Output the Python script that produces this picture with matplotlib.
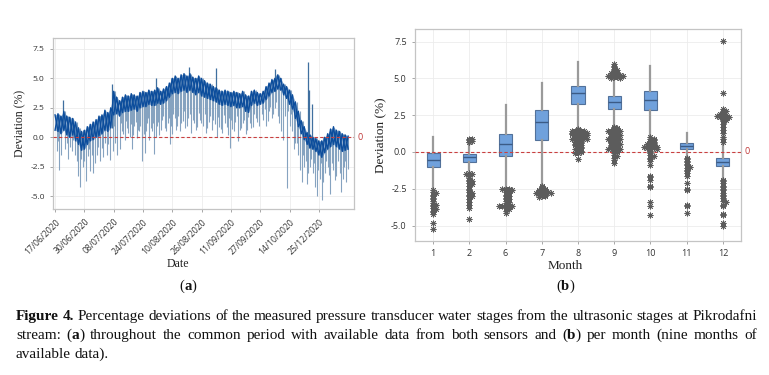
import numpy as np
import matplotlib
matplotlib.use("Agg")
import matplotlib.pyplot as plt

# ---------------- data: panel (a) time series ----------------
date_labels = ['17/06/2020', '30/06/2020', '08/07/2020', '24/07/2020', '10/08/2020',
               '26/08/2020', '11/09/2020', '27/09/2020', '14/10/2020', '25/12/2020']
t_step = 0.1  # samples every 0.1 tick interval
band_top = [1.9, 2.0, 1.8, 2.2, 1.8, 1.7, 1.6, 1.3, 0.8, 0.5,
            0.6, 0.9, 1.1, 1.3, 1.5, 1.8, 1.9, 2.3, 2.1, 2.5,
            3.9, 3.4, 3.1, 3.4, 3.6, 3.5, 3.7, 3.6, 3.5, 3.8,
            3.9, 3.8, 4.0, 3.9, 4.0, 4.2, 3.9, 4.1, 4.3, 4.6,
            5.0, 5.2, 5.0, 5.3, 5.4, 5.2, 5.4, 5.1, 5.0, 5.2,
            5.0, 4.8, 4.6, 4.5, 4.3, 4.2, 4.0, 3.9, 4.0, 3.9,
            3.8, 3.9, 3.8, 3.7, 3.9, 3.6, 3.5, 3.9, 4.0, 3.8,
            3.7, 3.9, 4.3, 4.6, 4.9, 5.0, 5.3, 5.0, 4.5, 4.3,
            4.0, 3.6, 3.0, 2.2, 1.4, 0.9, 0.4, 0.2, 0.0, -0.1,
            -0.3, -0.3, 0.0, 0.3, 0.7, 0.9, 0.6, 0.5, 0.3, 0.2,
            0.1]
band_bottom = [0.6, 0.5, 0.3, 0.6, 0.2, 0.0, 0.2, -0.3, -0.6, -1.1,
               -1.0, -0.6, -0.3, -0.2, 0.0, 0.1, 0.3, 0.6, 0.5, 0.8,
               1.9, 2.0, 1.8, 2.1, 2.2, 2.2, 2.3, 2.4, 2.2, 2.5,
               2.6, 2.6, 2.8, 2.7, 2.7, 2.9, 2.8, 2.9, 3.1, 3.4,
               3.7, 3.8, 3.7, 3.9, 4.0, 3.8, 4.0, 3.8, 3.6, 3.8,
               3.5, 3.4, 3.3, 3.2, 3.1, 3.0, 2.8, 2.7, 2.8, 2.7,
               2.6, 2.7, 2.5, 2.5, 2.6, 2.2, 2.1, 2.7, 2.9, 2.7,
               2.8, 2.9, 3.2, 3.5, 3.8, 3.9, 4.1, 4.0, 3.6, 3.3,
               2.8, 2.4, 1.6, 0.9, 0.3, -0.2, -0.6, -0.9, -1.0, -1.2,
               -1.5, -1.7, -1.3, -1.0, -0.8, -0.6, -0.8, -1.0, -1.2, -1.1,
               -1.0]
# large excursions (light spikes)
spike_t = [0.06, 0.15, 0.28, 0.34, 0.51, 0.68, 0.80, 0.85, 0.97, 1.05, 1.12, 1.19, 1.29,
           1.42, 1.54, 1.65, 1.76, 1.88, 1.94, 2.05, 2.10, 2.20, 2.28, 2.39,
           2.45, 2.55, 2.62, 2.70, 2.80, 2.87, 2.95, 3.02, 3.07, 3.15, 3.22, 3.30, 3.39,
           3.45, 3.47, 3.55, 3.65, 3.75, 3.85, 3.92, 4.00, 4.08, 4.15, 4.25, 4.35, 4.45,
           4.55, 4.56, 4.65, 4.75, 4.85, 4.95,
           5.05, 5.15, 5.25, 5.35, 5.45, 5.50, 5.52, 5.60, 5.70, 5.80, 5.90, 5.97, 6.05,
           6.15, 6.25, 6.35, 6.45, 6.55, 6.65, 6.75, 6.85, 6.95, 7.05, 7.20, 7.30, 7.40,
           7.50, 7.51, 7.60, 7.70,
           7.78, 7.90, 8.00, 8.10, 8.20, 8.30, 8.41, 8.50, 8.58, 8.64, 8.67, 8.70, 8.76,
           8.80, 8.88, 8.93, 9.03, 9.10, 9.20, 9.30, 9.38, 9.50, 9.60, 9.77, 9.85, 9.94]
spike_v = [-1.2, -2.8, 3.2, -1.0, -0.8, -1.5, -3.3, -4.2, -2.5, -3.7, -1.6, -2.9, -3.0,
           -1.5, -2.0, -1.7, -1.5, -1.9, 4.5, -0.5, -1.5, -1.0, 0.5, -0.2,
           0.8, 0.0, -1.0, 1.0, -0.1, 0.5, -2.0, 0.3, -1.3, 1.2, -0.2, 0.5, -1.4,
           5.0, 1.0, 0.2, 1.5, 0.8, 1.2, -0.6, 0.3, 1.6, 1.0, 0.5, 1.4, 0.8,
           1.6, 6.0, 0.4, 1.2, 0.9, 1.5,
           1.0, 0.4, 1.3, 0.6, 1.1, 5.9, 0.0, 0.9, 0.4, 1.2, 0.2, -0.9, 0.7,
           1.3, -0.3, 0.8, 1.5, 0.6, 1.2, 0.9, 1.6, 1.0, 2.0, 1.0, 2.2, 1.6,
           2.5, 5.8, 1.8, 2.3,
           -0.2, -4.3, 1.0, 0.5, -0.5, -1.5, -3.8, -2.5, -4.0, 6.35, 4.0, -2.5, 2.8,
           -3.0, -4.2, -5.0, -3.5, -5.3, -3.0, -2.5, -4.8, -2.8, -3.3, -4.6, -2.5, -3.8]
# smaller excursions (light lines filling the area under the band)
minor_t = [0.10, 0.20, 0.40, 0.45, 0.58, 0.62, 0.74, 0.90, 1.00, 1.15, 1.25, 1.35, 1.48,
           1.60, 1.70, 1.82, 1.98,
           2.02, 2.13, 2.25, 2.33, 2.42, 2.50, 2.58, 2.66, 2.75, 2.83, 2.91, 2.98,
           3.05, 3.12, 3.18, 3.26, 3.34, 3.43, 3.52, 3.60, 3.70, 3.80, 3.88, 3.96,
           4.04, 4.12, 4.20, 4.30, 4.40, 4.50, 4.60, 4.70, 4.80, 4.90, 4.98,
           5.10, 5.20, 5.30, 5.40, 5.57, 5.65, 5.75, 5.85, 5.93,
           6.00, 6.10, 6.20, 6.30, 6.40, 6.50, 6.60, 6.70, 6.80, 6.90,
           7.10, 7.15, 7.25, 7.35, 7.45, 7.55, 7.65, 7.72, 7.85, 7.95,
           8.05, 8.15, 8.25, 8.35, 8.45, 8.55, 8.62, 8.73, 8.83, 8.98, 9.07, 9.15,
           9.25, 9.35, 9.45, 9.55, 9.65, 9.72, 9.82, 9.90, 9.98]
minor_v = [-0.3, -1.5, -0.5, -1.8, -1.2, -0.2, -2.0, -1.8, -2.0, -1.0, -1.5, -2.2, -0.8,
           -0.9, -0.5, -0.6, -1.2,
           1.0, 0.6, 1.2, 0.3, 1.4, 0.4, 1.1, 0.2, 1.3, 0.6, 1.0, 0.0,
           1.4, 0.5, 1.6, 0.8, 1.2, 0.0, 1.3, 0.6, 1.8, 0.5, 1.6, 1.0,
           2.0, 0.6, 1.8, 1.2, 2.2, 1.0, 2.0, 1.5, 0.6, 2.1, 1.2,
           2.0, 0.8, 1.8, 1.5, 1.7, 0.7, 1.9, 0.9, 1.6,
           1.5, 0.5, 1.8, 0.6, 1.2, 0.3, 1.7, 0.8, 2.0, 1.3,
           1.5, 2.4, 1.4, 2.6, 2.0, 3.0, 1.2, 0.5, 1.8, 2.2,
           2.0, -1.0, -0.5, -2.8, -1.5, -2.0, -3.0, -1.8, -2.2, -2.8, -2.2, -3.8,
           -2.0, -3.2, -2.2, -3.6, -2.0, -3.0, -3.5, -2.0, -2.7]

# ---------------- data: panel (b) monthly box plots ----------------
months = ['1', '2', '6', '7', '8', '9', '10', '11', '12']
q1 = [-1.05, -0.69, -0.25, 0.80, 3.24, 2.91, 2.83, 0.20, -0.97]
med = [-0.55, -0.35, 0.52, 2.01, 3.98, 3.40, 3.53, 0.43, -0.65]
q3 = [-0.08, -0.16, 1.22, 2.83, 4.47, 3.79, 4.12, 0.59, -0.39]
whislo = [-2.55, -1.25, -2.40, -2.25, 1.62, 1.75, 1.10, -0.30, -1.75]
whishi = [1.00, 0.60, 3.17, 4.68, 6.14, 4.95, 5.82, 1.27, 0.45]
out_m1 = [-2.6, -2.7, -2.8, -2.9, -3.0, -3.1, -3.2, -3.3, -3.5, -3.6, -3.6, -3.7,
          -3.8, -3.9, -4.0, -4.1, -4.2, -4.8, -5.25]
out_m2 = [0.65, 0.7, 0.75, 0.8, 0.85, 0.9, -1.4, -1.5, -1.5, -1.6, -1.8, -1.9, -2.0,
          -2.0, -2.1, -2.2, -2.3, -2.5, -2.6, -2.7, -2.8, -2.9, -3.0, -3.0, -3.2,
          -3.4, -3.6, -3.8, -4.55]
out_m6 = [-2.5, -2.5, -2.5, -2.55, -2.6, -2.6, -2.7, -2.8, -2.9, -3.0, -3.0, -3.1,
          -3.2, -3.2, -3.3, -3.4, -3.5, -3.6, -3.7, -3.7, -3.7, -3.7, -3.7, -3.8,
          -3.9, -4.0, -4.15]
out_m7 = [-2.3, -2.4, -2.5, -2.5, -2.55, -2.6, -2.6, -2.65, -2.7, -2.7, -2.7, -2.75,
          -2.8, -2.8, -2.85, -2.9, -2.9, -3.0, -3.0, -3.05]
out_m8 = [1.55, 1.5, 1.45, 1.4, 1.4, 1.4, 1.35, 1.35, 1.3, 1.3, 1.3, 1.3, 1.25, 1.25,
          1.2, 1.2, 1.2, 1.15, 1.1, 1.1, 1.1, 1.05, 1.0, 1.0, 1.0, 0.95, 0.9, 0.9,
          0.85, 0.8, 0.8, 0.75, 0.7, 0.7, 0.65, 0.6, 0.55, 0.5, 0.5, 0.45, 0.4, 0.35,
          0.3, 0.25, 0.2, 0.15, 0.1, 0.05, 0.0, -0.05, -0.1, -0.5]
out_m9 = [5.95, 5.85, 5.75, 5.65, 5.6, 5.5, 5.45, 5.4, 5.35, 5.3, 5.25, 5.25, 5.2,
          5.2, 5.2, 5.2, 5.15, 5.15, 5.1, 5.1, 5.05, 5.0,
          1.7, 1.65, 1.6, 1.55, 1.5, 1.5, 1.45, 1.4, 1.4, 1.35, 1.3, 1.3, 1.25, 1.2,
          1.2, 1.15, 1.1, 1.1, 1.05, 1.0, 1.0, 0.95, 0.9, 0.9, 0.85, 0.8, 0.8, 0.75,
          0.7, 0.7, 0.65, 0.6, 0.6, 0.55, 0.5, 0.5, 0.45, 0.4, 0.4, 0.35, 0.3, 0.3,
          0.25, 0.2, 0.2, 0.15, 0.1, 0.05, 0.0, -0.1, -0.2, -0.3, -0.4, -0.55, -0.75]
out_m10 = [1.0, 0.9, 0.85, 0.8, 0.75, 0.7, 0.65, 0.6, 0.55, 0.5, 0.45, 0.4, 0.4,
           0.4, 0.35, 0.35, 0.3, 0.3, 0.25, 0.2, 0.1, 0.0, -0.1, -0.2, -0.3, -0.4,
           -0.5, -0.6, -0.9, -1.6, -1.7, -1.9, -2.3, -2.4, -3.4, -3.7, -4.3]
out_m11 = [-0.4, -0.5, -0.6, -0.7, -0.8, -0.9, -1.0, -1.1, -1.2, -1.3, -1.4, -1.6,
           -2.1, -2.5, -2.6, -3.6, -3.7, -4.15]
out_m12 = [0.65, 0.9, 1.05, 1.3, 1.5, 1.7, 1.9, 2.1, 2.2, 2.3, 2.3, 2.35, 2.4, 2.4,
           2.4, 2.45, 2.5, 2.5, 2.55, 2.6, 2.7, 2.8, 2.9, 4.0, 7.55,
           -1.9, -2.0, -2.1, -2.3, -2.4, -2.5, -2.6, -2.8, -2.9, -3.0, -3.1, -3.3,
           -3.4, -3.6, -3.7, -4.2, -4.3, -4.8, -5.0]

# ---------------- caption ----------------
caption_lines = [
    "**Figure 4.** Percentage deviations of the measured pressure transducer water stages from the ultrasonic stages at Pikrodafni",
    "stream: (**a**) throughout the common period with available data from both sensors and (**b**) per month (nine months of",
    "available data).",
]

# ---------------- styling ----------------
W, H = 769, 375
fig = plt.figure(figsize=(W / 100, H / 100), dpi=100)
tick_font = 'Open Sans'
serif = 'Liberation Serif'
dark = '#0c4d9c'
light = '#86a3c0'
grid_c = '#ececec'
spine_c = '#c4c4c4'
tick_c = '#333333'
renderer = fig.canvas.get_renderer()


def px_axes(x0, y0, x1, y1):
    return fig.add_axes([x0 / W, 1 - y1 / H, (x1 - x0) / W, (y1 - y0) / H])


def style(ax):
    for s in ax.spines.values():
        s.set_color(spine_c)
        s.set_linewidth(0.9)
    ax.grid(True, color=grid_c, lw=0.6)
    ax.set_axisbelow(True)
    ax.tick_params(colors='#999999', labelcolor=tick_c, length=2.5, width=0.6)


def seg_width(s, b, fs):
    tx = fig.text(0, 0, s, family=serif, fontsize=fs, weight='bold' if b else 'normal')
    w = tx.get_window_extent(renderer).width
    tx.remove()
    return w


def parse_line(line):
    words = []
    bold = False
    for w in line.split(' '):
        segs = []
        parts = w.split('**')
        for k, p in enumerate(parts):
            if k > 0:
                bold = not bold
            if p:
                segs.append((p, bold))
        words.append(segs)
    return words


def draw_segments(x, y, segs, fs, color='#111111'):
    for s, b in segs:
        fig.text(x / W, 1 - y / H, s, family=serif, fontsize=fs,
                 weight='bold' if b else 'normal', ha='left', va='baseline', color=color)
        x += seg_width(s, b, fs)
    return x


# ---------- panel (a) ----------
axa = px_axes(53, 38, 354, 209)
style(axa)
n = len(band_top)
t = np.arange(n) * t_step
top = np.array(band_top)
bot = np.array(band_bottom)
st = np.array(spike_t + minor_t)
sv = np.array(spike_v + minor_v)
idx = np.clip(np.round(st / t_step).astype(int), 0, n - 1)
down = sv < bot[idx]
axa.vlines(st[down], sv[down], top[idx][down], color=light, lw=0.8, zorder=2)
up = sv > top[idx]
axa.vlines(st[up], bot[idx][up], sv[up], color='#3f6f9f', lw=0.9, zorder=2)
axa.fill_between(t, bot, top, color='#3a70b0', alpha=0.55, lw=0, zorder=3)
k = np.arange(n)
axa.plot(t, np.where(k % 2 == 0, top, bot), color=dark, lw=1.0, zorder=3)
axa.plot(t, np.where(k % 2 == 1, top, bot), color=dark, lw=1.0, zorder=3)
axa.axhline(0, color='#c94040', lw=0.8, ls=(0, (3, 2)), zorder=4)
axa.text(1.012, 0, '0', transform=axa.get_yaxis_transform(), color='#c03838',
         fontsize=6.5, va='center', ha='left', family=tick_font)
axa.set_xlim(-0.07, 10.2)
axa.set_ylim(-6.08, 8.42)
axa.set_yticks([-5.0, -2.5, 0.0, 2.5, 5.0, 7.5])
axa.set_yticklabels(['-5.0', '-2.5', '0.0', '2.5', '5.0', '7.5'], family=tick_font, fontsize=6)
axa.set_xticks(np.arange(len(date_labels)))
axa.set_xticklabels(date_labels, rotation=45, ha='right', rotation_mode='anchor',
                    family=tick_font, fontsize=6.2)
axa.set_ylabel('Deviation (%)', family=serif, fontsize=8.5, color='#222222', labelpad=3)
fig.text(178 / W, 1 - 267 / H, 'Date', family=serif, fontsize=8.5, color='#222222',
         ha='center', va='baseline')

# ---------- panel (b) ----------
axb = px_axes(415, 29, 741, 241)
style(axb)
stats = [dict(med=med[i], q1=q1[i], q3=q3[i], whislo=whislo[i], whishi=whishi[i], fliers=[])
         for i in range(len(months))]
axb.bxp(stats, positions=list(range(len(months))), widths=0.36, patch_artist=True,
        showfliers=False, showcaps=False,
        boxprops=dict(facecolor='#70a1dc', edgecolor='#52719a', linewidth=0.8),
        whiskerprops=dict(color='#9a9a9a', linewidth=1.6),
        medianprops=dict(color='#3b5b86', linewidth=1.0))


def spread(vals, step=0.085, binw=0.12):
    vals = np.asarray(vals, dtype=float)
    bins = np.round(vals / binw)
    offs = np.zeros(len(vals))
    for b in np.unique(bins):
        ids = np.where(bins == b)[0]
        for kk, j in enumerate(ids):
            offs[j] = ((kk + 1) // 2) * step * (1 if kk % 2 else -1)
    return offs


all_out = [out_m1, out_m2, out_m6, out_m7, out_m8, out_m9, out_m10, out_m11, out_m12]
for i, vals in enumerate(all_out):
    offs = spread(vals)
    axb.plot(i + offs, vals, ls='none', marker=(8, 2, 0), ms=4.2, mew=0.6,
             color='#5c5c5c', zorder=5)
axb.axhline(0, color='#c94040', lw=0.8, ls=(0, (3, 2)), zorder=4)
axb.text(1.012, 0, '0', transform=axb.get_yaxis_transform(), color='#c03838',
         fontsize=6.5, va='center', ha='left', family=tick_font)
axb.set_xlim(-0.5, 8.5)
axb.set_ylim(-6.05, 8.36)
axb.set_yticks([-5.0, -2.5, 0.0, 2.5, 5.0, 7.5])
axb.set_yticklabels(['-5.0', '-2.5', '0.0', '2.5', '5.0', '7.5'], family=tick_font, fontsize=6.5)
axb.set_xticks(list(range(len(months))))
axb.set_xticklabels(months, family=tick_font, fontsize=6.5)
axb.set_ylabel('Deviation (%)', family=serif, fontsize=9.5, color='#222222', labelpad=3)
fig.text(565 / W, 1 - 269 / H, 'Month', family=serif, fontsize=9.5, color='#222222',
         ha='center', va='baseline')

# panel labels "(a)" / "(b)" with bold letters
for xc, lab in [(188, 'a'), (565, 'b')]:
    segs = [('(', False), (lab, True), (')', False)]
    wtot = sum(seg_width(s, b, 10.5) for s, b in segs)
    draw_segments(xc - wtot / 2, 290, segs, 10.5)

# ---------- caption, justified ----------
x_left, x_right = 16, 757
baselines = [320, 339, 358]
probe = 10.0
w1 = sum(seg_width(s, b, probe) for segs in parse_line(caption_lines[0]) for s, b in segs)
sp = seg_width('a a', False, probe) - 2 * seg_width('a', False, probe)
nw = len(parse_line(caption_lines[0]))
cap_fs = probe * (x_right - x_left) / (w1 + sp * (nw - 1))

for li, line in enumerate(caption_lines):
    words = parse_line(line)
    widths = [[seg_width(s, b, cap_fs) for s, b in segs] for segs in words]
    totals = [sum(ws) for ws in widths]
    justify = li < len(caption_lines) - 1
    if justify:
        gap = (x_right - x_left - sum(totals)) / (len(words) - 1)
    else:
        gap = seg_width('a a', False, cap_fs) - 2 * seg_width('a', False, cap_fs)
    x = x_left
    for segs, tot in zip(words, totals):
        draw_segments(x, baselines[li], segs, cap_fs)
        x += tot + gap

fig.savefig('out.png', dpi=100)
